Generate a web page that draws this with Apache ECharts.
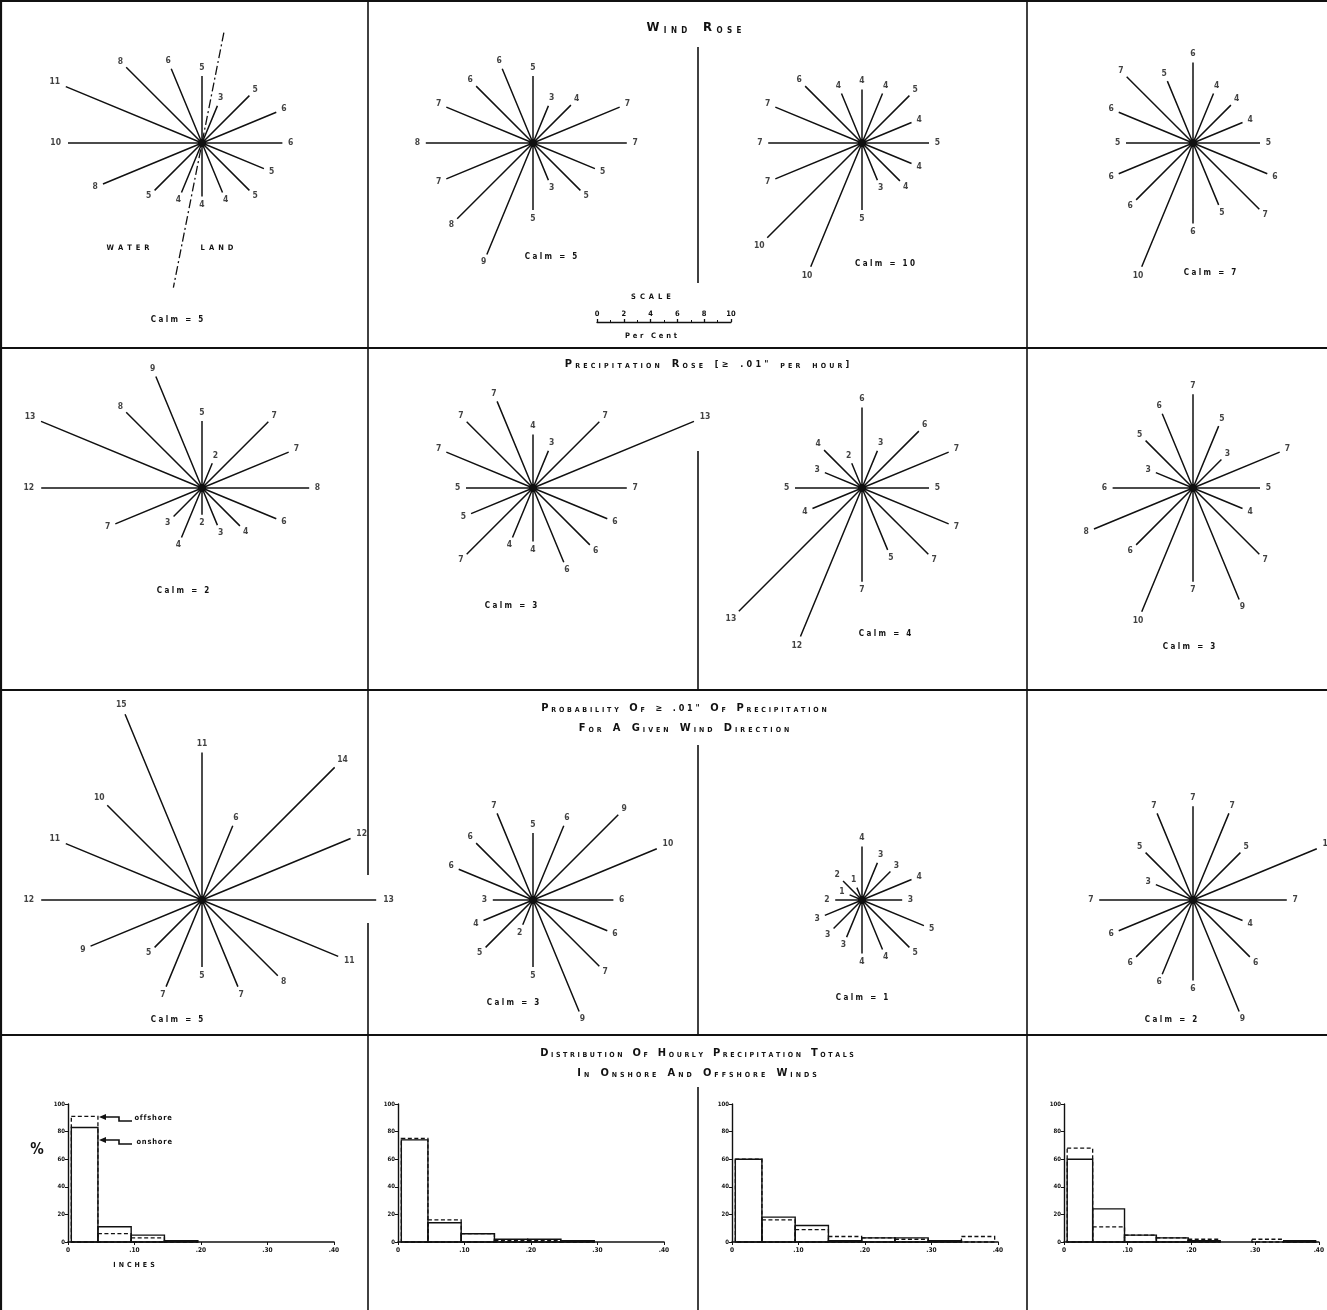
<!DOCTYPE html>
<html><head><meta charset="utf-8">
<script src="https://cdn.jsdelivr.net/npm/echarts@6/dist/echarts.min.js"></script>
<style>html,body{margin:0;padding:0;background:#fff}#c{width:1327px;height:1310px}</style>
</head><body><div id="c"></div>
<script>
// ---------------- DATA ----------------
const directions = ['N','NNE','NE','ENE','E','ESE','SE','SSE','S','SSW','SW','WSW','W','WNW','NW','NNW'];
// Wind rose, per cent of hours (4 stations)
const windA = [5,3,5,6,6,5,5,4,4,4,5,8,10,11,8,6];
const windB = [5,3,4,7,7,5,5,3,5,9,8,7,8,7,6,6];
const windC = [4,4,5,4,5,4,4,3,5,10,10,7,7,7,6,4];
const windD = [6,4,4,4,5,6,7,5,6,10,6,6,5,6,7,5];
const windCalm = [5,5,10,7];
// Precipitation rose (>= .01" per hour)
const precA = [5,2,7,7,8,6,4,3,2,4,3,7,12,13,8,9];
const precB = [4,3,7,13,7,6,6,6,4,4,7,5,5,7,7,7];
const precC = [6,3,6,7,5,7,7,5,7,12,13,4,5,3,4,2];
const precD = [7,5,3,7,5,4,7,9,7,10,6,8,6,3,5,6];
const precCalm = [2,3,4,3];
// Probability of >= .01" of precipitation for a given wind direction
const probA = [11,6,14,12,13,11,8,7,5,7,5,9,12,11,10,15];
const probB = [5,6,9,10,6,6,7,9,5,2,5,4,3,6,6,7];
const probC = [4,3,3,4,3,5,5,4,4,3,3,3,2,1,2,1];
const probD = [7,7,5,10,7,4,6,9,6,6,6,6,7,3,5,7];
const probCalm = [5,3,1,2];
// Distribution of hourly precipitation totals (per cent), bins in inches
const binEdges = [0.005,0.045,0.095,0.145,0.195,0.245,0.295,0.345,0.395];
const onshoreA  = [83,11,5,1,0,0,0,0];
const offshoreA = [91,6,3,1,0,0,0,0];
const onshoreB  = [74,14,6,2,2,1,0,0];
const offshoreB = [75,16,6,1,1,1,0,0];
const onshoreC  = [60,18,12,1,3,3,1,0];
const offshoreC = [60,16,9,4,3,2,1,4];
const onshoreD  = [60,24,5,3,1,0,0,1];
const offshoreD = [68,11,5,3,2,0,2,1];
const histXTicks = ['0','.10','.20','.30','.40'];
const histYTicks = ['0','20','40','60','80','100'];
const scaleTicks = ['0','2','4','6','8','10'];

// ---------------- LAYOUT ----------------
const FONT = "'DejaVu Sans Condensed','Liberation Sans Narrow','DejaVu Sans',sans-serif";
const INK = '#111';
const PX = 13.4;          // pixels per per cent
const RMAX = 16;
const colX = [202, 533, 862, 1193];
const rowY = [143, 488, 900];
const roses = [[windA,windB,windC,windD],[precA,precB,precC,precD],[probA,probB,probC,probD]];
const calms = [windCalm, precCalm, probCalm];
const calmPos = [
  [[177,320],[551,257],[885,264],[1210,273]],
  [[183,591],[511,606],[885,634],[1189,647]],
  [[177,1020],[513,1003],[862,998],[1171,1020]]
];

const polar = [], angleAxis = [], radiusAxis = [], series = [];
const graphics = [];

function spaced(str, size, pad, weight) {
  let t = '';
  for (const ch of str) t += ch === ' ' ? '{sp|\u00a0}' : '{c|' + ch + '}';
  return { text: t, rich: {
    c: {fontSize: size, fontWeight: weight || 'bold', fontFamily: FONT, padding: [0, pad, 0, pad], color: INK},
    sp: {fontSize: size, fontFamily: FONT, padding: [0, pad, 0, pad]}
  }};
}
function caps(str, big, small, pad) {
  let t = '';
  str.split(' ').forEach((w, wi) => {
    if (wi > 0) t += '{sp|\u00a0}';
    [...w].forEach((ch, ci) => {
      let st;
      if (/[A-Za-z]/.test(ch)) { st = (ci === 0 && ch === ch.toUpperCase()) ? 'B' : 'S'; ch = ch.toUpperCase(); }
      else st = 'M';
      t += '{' + st + '|' + ch + '}';
    });
  });
  const base = {fontWeight: 'bold', fontFamily: FONT, color: INK, padding: [0, pad, 0, pad], verticalAlign: 'bottom'};
  return { text: t, rich: {
    B: Object.assign({}, base, {fontSize: big, lineHeight: big}),
    S: Object.assign({}, base, {fontSize: small, lineHeight: small}),
    M: Object.assign({}, base, {fontSize: small + 2, lineHeight: small + 2}),
    sp: Object.assign({}, base, {fontSize: small, lineHeight: small, padding: [0, pad * 2, 0, pad * 2]})
  }};
}
function addText(x, y, obj, align) {
  graphics.push({type: 'text', x: x, y: y, silent: true, z: 10,
    style: {text: obj.text, rich: obj.rich, fill: INK, align: align || 'center', verticalAlign: 'middle',
            textAlign: align || 'center', textVerticalAlign: 'middle'}});
}
function seg(x1, y1, x2, y2, w) {
  graphics.push({type: 'line', silent: true, shape: {x1, y1, x2, y2}, style: {stroke: INK, lineWidth: w || 1.6}});
}

// roses
let pi = 0;
roses.forEach((row, r) => {
  row.forEach((vals, c) => {
    polar.push({center: [colX[c], rowY[r]], radius: RMAX * PX});
    angleAxis.push({polarIndex: pi, type: 'value', min: 0, max: 360, startAngle: 90, clockwise: true, show: false});
    radiusAxis.push({polarIndex: pi, type: 'value', min: 0, max: RMAX, show: false});
    const lineData = [];
    vals.forEach((v, i) => { const a = i * 22.5; lineData.push([0, a], [v, a]); });
    series.push({type: 'line', coordinateSystem: 'polar', polarIndex: pi, data: lineData, symbol: 'none',
      clip: false, silent: true, lineStyle: {color: INK, width: 1.5}, z: 3});
    series.push({type: 'scatter', coordinateSystem: 'polar', polarIndex: pi, silent: true, clip: false,
      symbolSize: 6, itemStyle: {color: INK}, data: [[0, 0]], z: 4});
    series.push({type: 'scatter', coordinateSystem: 'polar', polarIndex: pi, silent: true, clip: false,
      symbolSize: 1, itemStyle: {color: 'rgba(0,0,0,0)'},
      data: vals.map((v, i) => {
        const a = i * 22.5;
        const s = Math.abs(Math.sin(a * Math.PI / 180));
        const ext = 0.62 + (String(v).length - 1) * 0.3 * s;
        return [v + ext, a, v];
      }),
      label: {show: true, position: 'inside', formatter: p => String(p.value[2]),
        fontSize: 8.5, fontWeight: 'bold', fontFamily: FONT, color: INK}, z: 5});
    const cp = calmPos[r][c];
    addText(cp[0], cp[1], spaced('Calm = ' + calms[r][c], 8, 1.2));
    pi++;
  });
});
// water / land boundary (dash-dot) on first wind rose
series.push({type: 'line', coordinateSystem: 'polar', polarIndex: 0, data: [[8.4, 11.2], [11, 191.2]],
  symbol: 'none', clip: false, silent: true, lineStyle: {color: INK, width: 1.3, type: [9, 3, 2, 3]}, z: 3});
addText(128, 248, spaced('WATER', 7.5, 2));
addText(217, 248, spaced('LAND', 7.5, 2));

// scale bar + histograms (cartesian)
const grid = [{left: 597, top: 322, width: 134, height: 8}];
const xAxis = [{gridIndex: 0, type: 'value', position: 'top', min: 0, max: 10, interval: 2,
  axisLine: {show: true, onZero: false, lineStyle: {color: INK, width: 1.3}},
  axisTick: {show: true, length: 3, lineStyle: {color: INK, width: 1.3}},
  minorTick: {show: true, splitNumber: 2, length: 2, lineStyle: {color: INK}},
  axisLabel: {margin: 4, fontSize: 7.5, fontWeight: 'bold', fontFamily: FONT, color: INK,
    formatter: v => scaleTicks[Math.round(v / 2)]},
  splitLine: {show: false}}];
const yAxis = [{gridIndex: 0, type: 'value', show: false}];
const histOn = [onshoreA, onshoreB, onshoreC, onshoreD];
const histOff = [offshoreA, offshoreB, offshoreC, offshoreD];
const histLeft = [68, 398, 732, 1064];
function histRender(dashed) {
  return function (params, api) {
    const v = api.value(2);
    if (!v) return null;
    const a = api.coord([api.value(0), 0]);
    const b = api.coord([api.value(1), v]);
    return {type: 'rect', shape: {x: a[0], y: b[1], width: b[0] - a[0], height: a[1] - b[1]},
      style: {fill: 'none', stroke: INK, lineWidth: dashed ? 1.3 : 1.4, lineDash: dashed ? [4, 2.5] : null}};
  };
}
histLeft.forEach((left, k) => {
  const gi = k + 1;
  grid.push({left: left, top: 1104, width: 266, height: 138});
  xAxis.push({gridIndex: gi, type: 'value', min: 0, max: 0.4, interval: 0.1,
    axisLine: {show: true, onZero: false, lineStyle: {color: INK, width: 1.7}},
    axisTick: {show: true, length: 3, lineStyle: {color: INK}},
    axisLabel: {margin: 5, fontSize: 6.5, fontWeight: 'bold', fontFamily: FONT, color: INK,
      formatter: v => histXTicks[Math.round(v * 10)]},
    splitLine: {show: false}});
  yAxis.push({gridIndex: gi, type: 'value', min: 0, max: 100, interval: 20,
    axisLine: {show: true, onZero: false, lineStyle: {color: INK, width: 1.4}},
    axisTick: {show: true, length: 3, lineStyle: {color: INK}},
    axisLabel: {margin: 3, fontSize: 6, fontWeight: 'bold', fontFamily: FONT, color: INK,
      formatter: v => histYTicks[Math.round(v / 20)]},
    splitLine: {show: false}});
  const mk = vals => vals.map((v, i) => [binEdges[i], binEdges[i + 1], v]);
  series.push({type: 'custom', xAxisIndex: gi, yAxisIndex: gi, renderItem: histRender(true),
    encode: {x: [0, 1], y: 2}, data: mk(histOff[k]), silent: true, clip: false, z: 3});
  series.push({type: 'custom', xAxisIndex: gi, yAxisIndex: gi, renderItem: histRender(false),
    encode: {x: [0, 1], y: 2}, data: mk(histOn[k]), silent: true, clip: false, z: 4});
});

// frame lines
seg(0, 1, 1327, 1, 2.2); seg(1, 0, 1, 1310, 2.2);
seg(0, 348, 1327, 348, 1.8); seg(0, 690, 1327, 690, 1.8); seg(0, 1035, 1327, 1035, 1.8);
seg(368, 0, 368, 875); seg(368, 923, 368, 1310);
seg(1027, 0, 1027, 1310);
seg(698, 47, 698, 283); seg(698, 451, 698, 690); seg(698, 745, 698, 1035); seg(698, 1087, 698, 1310);

// titles
addText(694, 28, caps('Wind Rose', 13, 8, 2.2));
addText(707, 364, caps('Precipitation Rose [≥ .01" per hour]', 11, 7, 1.6));
addText(684, 708, caps('Probability Of ≥ .01" Of Precipitation', 11, 7, 1.4));
addText(684, 728, caps('For A Given Wind Direction', 11, 7, 1.5));
addText(697, 1053, caps('Distribution Of Hourly Precipitation Totals', 11, 7, 1.3));
addText(697, 1073, caps('In Onshore And Offshore Winds', 11, 7, 1.5));
// scale
addText(651, 297, spaced('SCALE', 7.5, 2));
addText(651, 336, spaced('Per Cent', 7.5, 1.4));
// histogram annotations
addText(37, 1150, {text: '{p|%}', rich: {p: {fontSize: 15, fontWeight: 'bold', fontFamily: FONT, color: INK}}});
addText(134, 1265, spaced('INCHES', 7, 1.5));
addText(134, 1118, spaced('offshore', 7.5, 0.4), 'left');
addText(136, 1142, spaced('onshore', 7.5, 0.4), 'left');
graphics.push({type: 'polyline', silent: true, shape: {points: [[102, 1117], [119, 1117], [119, 1121], [132, 1121]]},
  style: {stroke: INK, lineWidth: 1.6, fill: null}});
graphics.push({type: 'polygon', silent: true, shape: {points: [[99, 1117], [106, 1114], [106, 1120]]}, style: {fill: INK}});
graphics.push({type: 'polyline', silent: true, shape: {points: [[102, 1140], [119, 1140], [119, 1144], [132, 1144]]},
  style: {stroke: INK, lineWidth: 1.6, fill: null}});
graphics.push({type: 'polygon', silent: true, shape: {points: [[99, 1140], [106, 1137], [106, 1143]]}, style: {fill: INK}});

const chart = echarts.init(document.getElementById('c'));
chart.setOption({
  animation: false,
  backgroundColor: '#fff',
  polar, angleAxis, radiusAxis, grid, xAxis, yAxis, series,
  graphic: {elements: graphics}
});
</script>
</body></html>
